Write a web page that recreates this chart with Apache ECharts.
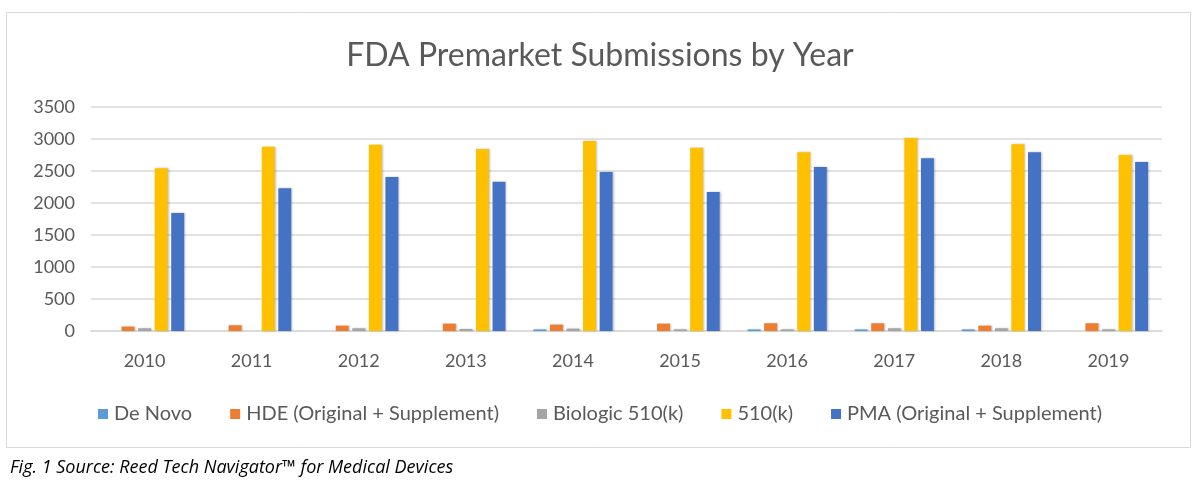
<!DOCTYPE html>
<html><head><meta charset="utf-8">
<script src="https://cdn.jsdelivr.net/npm/echarts@6/dist/echarts.min.js"></script>
<style>html,body{margin:0;padding:0;background:#fff}#c{width:1200px;height:486px}</style>
</head><body><div id="c"></div>
<script>
const years = ['2010','2011','2012','2013','2014','2015','2016','2017','2018','2019'];
const deNovo = [0, 0, 0, 0, 24, 0, 24, 24, 24, 0];
const hde = [68, 89, 83, 115, 99, 115, 120, 120, 83, 120];
const biologic = [42, 0, 42, 31, 36, 26, 26, 42, 42, 26];
const k510 = [2542, 2880, 2911, 2844, 2969, 2865, 2792, 3015, 2917, 2750];
const pma = [1844, 2229, 2406, 2333, 2484, 2172, 2562, 2698, 2792, 2641];
const seriesNames = ['De Novo','HDE (Original + Supplement)','Biologic 510(k)','510(k)','PMA (Original + Supplement)'];
const colors = ['#5B9BD5','#ED7D31','#A5A5A5','#FFC000','#4472C4'];
const seriesData = [deNovo, hde, biologic, k510, pma];
const font = 'Lato, "Open Sans", sans-serif';
const chart = echarts.init(document.getElementById('c'), null, {renderer:'canvas'});
chart.setOption({
  animation:false,
  color: colors,
  title: [{
    text:'FDA Premarket Submissions by Year', left:'center', top:35,
    textStyle:{fontFamily:font, fontSize:32, fontWeight:'normal', color:'#595959'}
  },{
    text:'Fig. 1 Source: Reed Tech Navigator™ for Medical Devices', left:5, top:454,
    textStyle:{fontFamily:'"Open Sans", sans-serif', fontSize:18, fontStyle:'italic', fontWeight:'normal', color:'#000'}
  }],
  graphic:[{type:'rect', shape:{x:6.5,y:12.5,width:1184,height:435}, style:{fill:null, stroke:'#d9d9d9', lineWidth:1}, silent:true, z:-1}],
  legend:{
    data: seriesNames, left:'center', top:399, itemWidth:10, itemHeight:10, itemGap:38,
    icon:'rect',
    textStyle:{fontFamily:font, fontSize:20, color:'#595959', padding:[0,0,0,1]}
  },
  grid:{left:91, right:38, top:107, bottom:155, containLabel:false},
  xAxis:{
    type:'category', data:years,
    axisLine:{lineStyle:{color:'#d9d9d9', width:1.5}},
    axisTick:{show:false},
    axisLabel:{fontFamily:font, fontSize:18, color:'#595959', margin:21}
  },
  yAxis:{
    type:'value', min:0, max:3500, interval:500,
    axisLine:{show:false}, axisTick:{show:false},
    splitLine:{lineStyle:{color:'#d9d9d9', width:1.5}},
    axisLabel:{fontFamily:font, fontSize:18, color:'#595959', margin:16, formatter:(v)=>String(v)}
  },
  series: seriesNames.map((n,i)=>({
    name:n, type:'bar', data:seriesData[i],
    barGap:'28%', barCategoryGap:'26%',
    itemStyle:{color:colors[i], shadowColor:'rgba(0,0,0,0.25)', shadowBlur:2, shadowOffsetX:1, shadowOffsetY:0}
  }))
});
</script></body></html>
